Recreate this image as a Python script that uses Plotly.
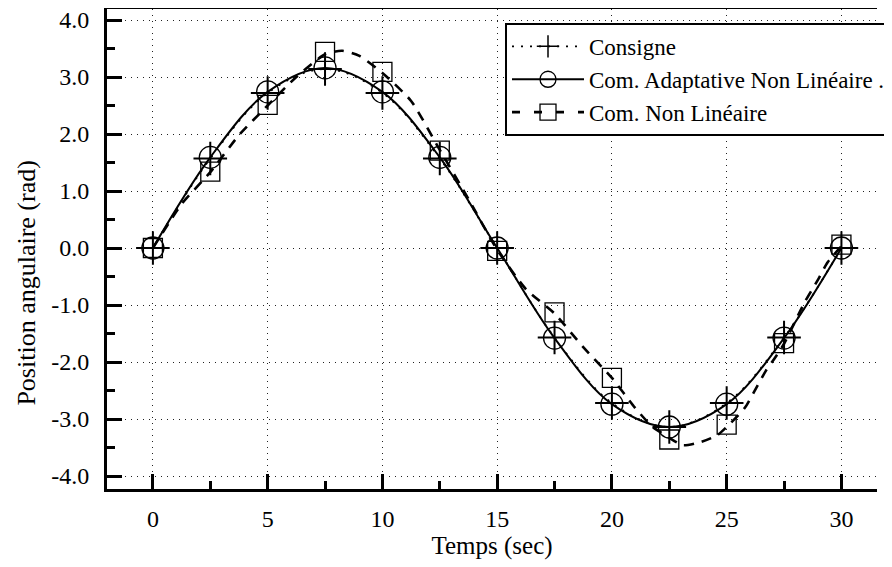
import plotly.graph_objects as go

# ---- data ----
t_marks = [0, 2.5, 5, 7.5, 10, 12.5, 15, 17.5, 20, 22.5, 25, 27.5, 30]
consigne = [0.0, 1.57, 2.72, 3.14, 2.72, 1.57, 0.0, -1.57, -2.72, -3.14, -2.72, -1.57, 0.0]
adaptative = [0.0, 1.59, 2.74, 3.16, 2.74, 1.59, 0.0, -1.58, -2.74, -3.14, -2.74, -1.58, 0.0]
nonlin_marks = [0.0, 1.34, 2.51, 3.44, 3.09, 1.71, -0.05, -1.13, -2.28, -3.36, -3.10, -1.67, 0.06]

t_nonlin_line = [0, 1.25, 2.5, 3.75, 5, 6.25, 7.5, 8.25, 9, 10, 11.25, 12.5, 13.75, 15,
                 16.25, 17.5, 18.75, 20, 21, 21.75, 22.5, 23.1, 23.9, 24.6, 25.2, 25.8,
                 26.2, 26.7, 27.1, 27.5, 28.4, 29, 29.4, 30]
nonlin_line = [0.0, 0.77, 1.33, 1.98, 2.50, 3.00, 3.40, 3.46, 3.37, 3.07, 2.58, 1.72, 0.86, -0.03,
               -0.72, -1.15, -1.74, -2.28, -2.80, -3.13, -3.33, -3.46, -3.40, -3.28, -3.06, -2.80,
               -2.52, -2.16, -1.93, -1.68, -0.95, -0.54, -0.25, 0.03]

x_tickvals = [0, 5, 10, 15, 20, 25, 30]
y_tickvals = [-4, -3, -2, -1, 0, 1, 2, 3, 4]

FONT = "Liberation Serif"
BLACK = "#000000"

fig = go.Figure()

# Non linéaire (dashed) line and markers
fig.add_trace(go.Scatter(x=t_nonlin_line, y=nonlin_line, mode="lines",
                         line=dict(color=BLACK, width=2.6, dash="10px,8px", shape="spline", smoothing=0.6),
                         showlegend=False, hoverinfo="skip"))
fig.add_trace(go.Scatter(x=t_marks, y=nonlin_marks, mode="markers",
                         marker=dict(symbol="square-open", size=19, color=BLACK, line=dict(width=1.3)),
                         showlegend=False))

# Adaptative (solid) line
fig.add_trace(go.Scatter(x=t_marks, y=adaptative, mode="lines+markers",
                         line=dict(color=BLACK, width=2, shape="spline", smoothing=1),
                         marker=dict(symbol="circle-open", size=22, color=BLACK, line=dict(width=1.3)),
                         showlegend=False))

# Consigne (dotted) line
fig.add_trace(go.Scatter(x=t_marks, y=consigne, mode="lines+markers",
                         line=dict(color=BLACK, width=1.8, dash="2px,7px", shape="spline", smoothing=1),
                         marker=dict(symbol="cross-thin-open", size=24, color=BLACK, line=dict(width=2, color=BLACK)),
                         showlegend=False))

# legend entries
fig.add_trace(go.Scatter(x=[None], y=[None], mode="lines+markers", name="Consigne",
                         line=dict(color=BLACK, width=1.8, dash="2px,7px"),
                         marker=dict(symbol="cross-thin-open", size=20, color=BLACK, line=dict(width=1.5, color=BLACK))))
fig.add_trace(go.Scatter(x=[None], y=[None], mode="lines+markers", name="Com. Adaptative Non Linéaire .",
                         line=dict(color=BLACK, width=2),
                         marker=dict(symbol="circle-open", size=20, color=BLACK, line=dict(width=1.3))))
fig.add_trace(go.Scatter(x=[None], y=[None], mode="lines+markers", name="Com. Non Linéaire",
                         line=dict(color=BLACK, width=2.6, dash="8px,14px"),
                         marker=dict(symbol="square-open", size=18, color=BLACK, line=dict(width=1.3))))

grid = dict(showgrid=True, gridcolor="#222222", gridwidth=1, griddash="1px,5px")

fig.update_xaxes(range=[-2, 31.55], tickvals=x_tickvals, ticktext=[str(v) for v in x_tickvals],
                 ticks="inside", ticklen=15, tickwidth=2.5, tickcolor=BLACK,
                 showline=True, linecolor=BLACK, linewidth=3, mirror=True,
                 minor=dict(dtick=2.5, ticks="inside", ticklen=8, tickwidth=2.5, tickcolor=BLACK, showgrid=False),
                 zeroline=False, ticklabelstandoff=6, automargin=False, ticklabeloverflow="allow",
                 tickfont=dict(family=FONT, size=24, color=BLACK),
                 title=dict(text="Temps (sec)", font=dict(family=FONT, size=25, color=BLACK), standoff=4),
                 **grid)
fig.update_yaxes(range=[-4.228, 4.193], tickvals=y_tickvals, ticktext=[f"{v:.1f}" for v in y_tickvals],
                 ticks="inside", ticklen=15, tickwidth=2.5, tickcolor=BLACK,
                 showline=True, linecolor=BLACK, linewidth=3, mirror=False,
                 minor=dict(dtick=0.5, ticks="inside", ticklen=8, tickwidth=2.5, tickcolor=BLACK, showgrid=False),
                 zeroline=False, ticklabelstandoff=10, automargin=False, ticklabeloverflow="allow",
                 tickfont=dict(family=FONT, size=24, color=BLACK),
                 **grid)

fig.add_annotation(text="Position angulaire (rad)", textangle=-90,
                   xref="paper", yref="paper", x=-0.1045, y=0.429,
                   xanchor="center", yanchor="middle", showarrow=False,
                   font=dict(family=FONT, size=26, color=BLACK))

fig.update_layout(
    width=884, height=559,
    margin=dict(l=99, r=0, t=1, b=78),
    paper_bgcolor="white", plot_bgcolor="white",
    font=dict(family=FONT, color=BLACK),
    legend=dict(x=0.517, y=0.971, xanchor="left", yanchor="top",
                bgcolor="white", bordercolor=BLACK, borderwidth=2,
                font=dict(family=FONT, size=23, color=BLACK),
                itemwidth=72, tracegroupgap=0),
)

fig.write_html("out.html")
